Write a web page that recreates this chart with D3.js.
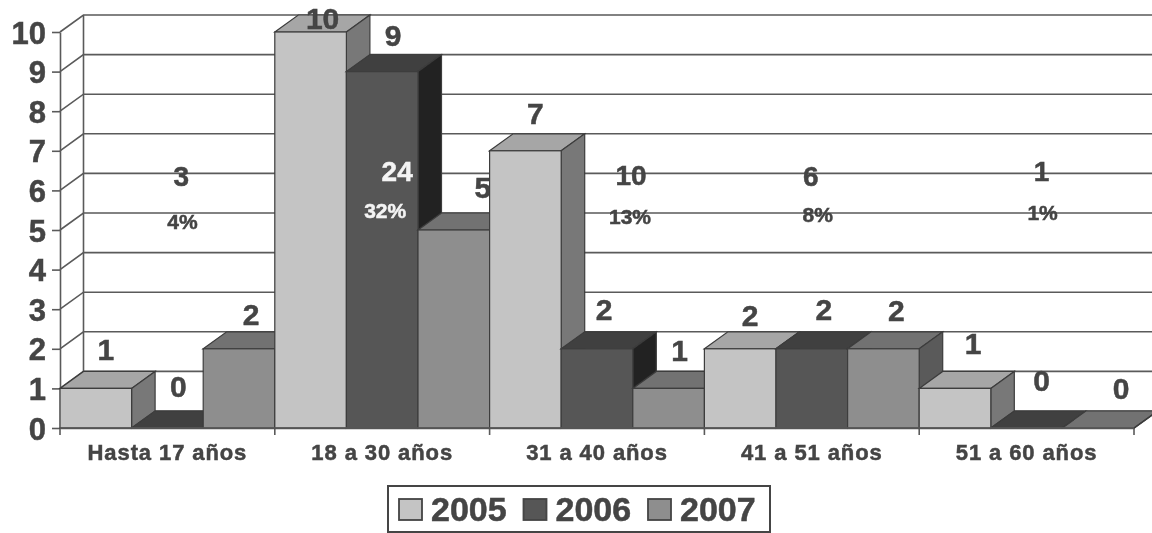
<!DOCTYPE html>
<html lang="en">
<head>
    <meta charset="UTF-8">
    <title>Edades por año</title>
    <script src="https://d3js.org/d3.v7.min.js"></script>
    <style>
        html, body { margin: 0; padding: 0; background: #fff; }
        svg { display: block; }
        text { font-family: "Liberation Sans", Arial, sans-serif; font-weight: bold; fill: #444; stroke: currentColor; stroke-width: 0.5px; color: #444; }
        .tick line, .domain { stroke: #5a5a5a; stroke-width: 1.6; }
        .grid { stroke: #5a5a5a; stroke-width: 1.6; fill: none; }
    </style>
</head>
<body>
    <div id="chart"></div>
    <script>
        const categories = ["Hasta 17 años", "18 a 30 años", "31 a 40 años", "41 a 51 años", "51 a 60 años"];
        const years = ["2005", "2006", "2007"];
        const values2005 = [1, 10, 7, 2, 1];
        const values2006 = [0, 9, 2, 2, 0];
        const values2007 = [2, 5, 1, 2, 0];
        const totals = [3, 24, 10, 6, 1];
        const percents = ["4%", "32%", "13%", "8%", "1%"];
        const yTicks = [0, 1, 2, 3, 4, 5, 6, 7, 8, 9, 10];

        const series = [values2005, values2006, values2007];

        const width = 1152;
        const height = 533;
        const depthX = 23.5;
        const depthY = 17;

        // front, top, side shade for each year
        const shades = [
            { front: "#c4c4c4", top: "#a6a6a6", side: "#787878" },
            { front: "#565656", top: "#404040", side: "#242424" },
            { front: "#8e8e8e", top: "#727272", side: "#5a5a5a" }
        ];

        // the scanned labels sit a bit unevenly over their bars: [dx, dy] per bar
        const labelNudge = [
            [[10, -28], [11, -31], [12, -24]],
            [[12, -3], [11, -26], [29, -32]],
            [[10, -27], [7, -29], [11, -27]],
            [[10, -23], [12, -29], [13, -28]],
            [[18, -34], [15, -37], [23, -29]]
        ];
        const totalNudge = [[14, 176], [15, 171], [34, 175], [-1, 176], [15, 171]];
        const percentNudge = [[15, 222], [3, 211], [33, 217], [6, 215], [16, 213]];

        const svg = d3.select("#chart").append("svg")
            .attr("width", width)
            .attr("height", height);

        // slight softness, the original is a scan
        svg.append("defs").append("filter").attr("id", "soft")
            .append("feGaussianBlur").attr("stdDeviation", 0.45);
        const root = svg.append("g").attr("filter", "url(#soft)");

        const x = d3.scaleBand().domain(categories).range([60, 1134]);
        const inner = d3.scaleBand().domain(years).range([0, x.bandwidth()]);
        const y = d3.scaleLinear().domain([0, 10]).range([428, 32]);

        // back wall and grid
        yTicks.forEach(t => {
            root.append("path")
                .attr("class", "grid")
                .attr("d", `M${x.range()[0]},${y(t)}L${x.range()[0] + depthX},${y(t) - depthY}H${width + 5}`);
        });
        root.append("line").attr("class", "grid")
            .attr("x1", x.range()[0] + depthX).attr("x2", x.range()[0] + depthX)
            .attr("y1", y(10) - depthY).attr("y2", y(0) - depthY);
        root.append("line").attr("class", "grid")
            .attr("x1", x.range()[1]).attr("x2", x.range()[1] + depthX)
            .attr("y1", y(0)).attr("y2", y(0) - depthY);

        // axes
        const yAxis = d3.axisLeft(y).tickValues(yTicks).tickSize(8).tickPadding(6).tickSizeOuter(0);
        const yG = root.append("g").attr("transform", `translate(${x.range()[0]},0)`).call(yAxis);
        yG.selectAll("text").style("font-size", "31px").attr("dy", "0.36em");

        const xAxis = d3.axisBottom(x).tickSize(0).tickPadding(0).tickSizeOuter(0);
        const xG = root.append("g").attr("transform", `translate(0,${y(0)})`).call(xAxis);
        xG.selectAll("text")
            .attr("y", 32)
            .attr("dy", 0)
            .style("font-size", "22px")
            .style("letter-spacing", "0.9px");
        // ticks fall on the band edges here
        const edges = categories.map(c => x(c)).concat(x.range()[1]);
        xG.selectAll(".edge").data(edges).enter().append("line")
            .attr("class", "grid edge")
            .attr("x1", d => d).attr("x2", d => d)
            .attr("y1", 0).attr("y2", 7);

        // bars, left to right, each later bar covering the one before
        const w = inner.bandwidth();
        categories.forEach((cat, i) => {
            years.forEach((year, s) => {
                const v = series[s][i];
                const x0 = x(cat) + inner(year);
                const g = root.append("g");
                const yTop = y(v);
                const yBase = y(0);
                const c = shades[s];
                g.append("path")
                    .attr("d", `M${x0},${yTop}l${depthX},${-depthY}h${w}l${-depthX},${depthY}Z`)
                    .attr("fill", c.top).attr("stroke", "#3c3c3c").attr("stroke-width", 1.2);
                g.append("path")
                    .attr("d", `M${x0 + w},${yTop}l${depthX},${-depthY}V${yBase - depthY}L${x0 + w},${yBase}Z`)
                    .attr("fill", c.side).attr("stroke", "#3c3c3c").attr("stroke-width", 1.2);
                if (v > 0) {
                    g.append("rect")
                        .attr("x", x0).attr("y", yTop)
                        .attr("width", w).attr("height", yBase - yTop)
                        .attr("fill", c.front).attr("stroke", "#3c3c3c").attr("stroke-width", 1.2);
                }
                g.append("text")
                    .attr("x", x0 + w / 2 + labelNudge[i][s][0])
                    .attr("y", yTop + labelNudge[i][s][1])
                    .attr("text-anchor", "middle")
                    .style("font-size", "30px")
                    .text(v);
            });
        });

        // base line on top of the bars
        root.append("line").attr("class", "grid")
            .attr("x1", x.range()[0]).attr("x2", x.range()[1])
            .attr("y1", y(0)).attr("y2", y(0));

        // totals and shares per age group
        categories.forEach((cat, i) => {
            const ink = i === 1 ? "#f4f4f4" : "#444";
            root.append("text")
                .attr("x", x(cat) + x.bandwidth() / 2 + totalNudge[i][0])
                .attr("y", totalNudge[i][1] + 10)
                .attr("text-anchor", "middle")
                .style("font-size", "28px")
                .style("fill", ink)
                .style("color", ink)
                .text(totals[i]);
            root.append("text")
                .attr("x", x(cat) + x.bandwidth() / 2 + percentNudge[i][0])
                .attr("y", percentNudge[i][1] + 7)
                .attr("text-anchor", "middle")
                .style("font-size", "21px")
                .style("fill", ink)
                .style("color", ink)
                .text(percents[i]);
        });

        // legend
        const legend = root.append("g");
        legend.append("rect")
            .attr("x", 388).attr("y", 486)
            .attr("width", 382).attr("height", 46)
            .attr("fill", "#fff").attr("stroke", "#444").attr("stroke-width", 2);
        const legendX = d3.scalePoint().domain(years).range([399, 648]);
        years.forEach((year, s) => {
            legend.append("rect")
                .attr("x", legendX(year)).attr("y", 499)
                .attr("width", 23).attr("height", 21)
                .attr("fill", shades[s].front).attr("stroke", "#444").attr("stroke-width", 1.8);
            legend.append("text")
                .attr("x", legendX(year) + 32).attr("y", 521)
                .style("font-size", "34px")
                .text(year);
        });
    </script>
</body>
</html>
